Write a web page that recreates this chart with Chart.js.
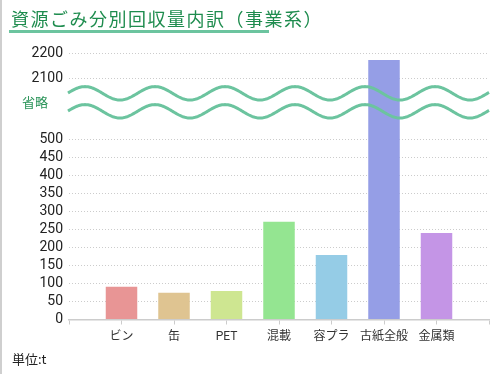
<!DOCTYPE html>
<html>
<head>
<meta charset="utf-8">
<script src="https://cdn.jsdelivr.net/npm/chart.js@4/dist/chart.umd.min.js"></script>
<style>
  html, body { margin: 0; padding: 0; background: #fff; }
  #wrap { position: relative; width: 496px; height: 374px; overflow: hidden; box-sizing: border-box; border-left: 2px solid #cfcfcf; }
  #chart { position: absolute; left: 0; top: 0; }
  .title { position: absolute; left: 9px; top: 5px; font: 18px "Noto Sans CJK JP"; letter-spacing: 1.5px; color: #1e8c4e; white-space: nowrap; }
  .underline { position: absolute; left: 7px; top: 30px; width: 260px; height: 3px; background: #6cc49f; }
  .omit { position: absolute; left: 20px; top: 92px; font: 13px "Noto Sans CJK JP"; color: #2a9459; }
  .unit { position: absolute; left: 10px; top: 349px; font: 13px "Noto Sans CJK JP"; color: #222; }
</style>
</head>
<body>
<div id="wrap">
  <canvas id="chart" width="494" height="374"></canvas>
  <div class="title">資源ごみ分別回収量内訳（事業系）</div>
  <div class="underline"></div>
  <div class="omit">省略</div>
  <div class="unit">単位:t</div>
</div>
<script>
const categories = ['ビン', '缶', 'PET', '混載', '容プラ', '古紙全般', '金属類'];
const amounts = [91, 74, 79, 271, 179, 2172, 240];
const lowerTicks = [0, 50, 100, 150, 200, 250, 300, 350, 400, 450, 500];
const upperTicks = [2100, 2200];
const colors = ['#e89595', '#dfc491', '#cee691', '#94e591', '#95cce6', '#959ee6', '#c495e6'];

const lowerMax = 600;   // top of the lower part, hidden under the break
const upperMin = 2000;  // bottom of the upper part

// empty slot at both ends so bars sit like the original
const labels = ['', ...categories, ''];
const pad = arr => [null, ...arr, null];
const lowerData = pad(amounts.map(v => Math.min(v, lowerMax)));
const upperData = pad(amounts.map(v => v > lowerMax ? v : null));
const barColors = pad(colors);

const font = { family: 'Roboto, "Noto Sans CJK JP"', size: 14 };

const breakLines = {
  id: 'breakLines',
  afterDatasetsDraw(chart) {
    const ctx = chart.ctx;
    const area = chart.chartArea;
    const edge = chart.scales.y2.bottom;
    ctx.save();
    ctx.strokeStyle = '#6cc49f';
    ctx.lineWidth = 3;
    [edge - 9.7, edge + 8.3].forEach(mid => {
      ctx.beginPath();
      for (let x = area.left - 1; x <= area.right; x += 1) {
        const y = mid - 6.7 * Math.sin((x - 65.5) / 70 * Math.PI * 2);
        if (x === area.left - 1) ctx.moveTo(x, y); else ctx.lineTo(x, y);
      }
      ctx.stroke();
    });
    ctx.restore();
  }
};

const keepTicks = list => scale => {
  scale.ticks = list.map(v => ({ value: v }));
};

const yTicks = { color: '#222', padding: 6, font: font, autoSkip: false, callback: v => String(v) };

new Chart(document.getElementById('chart'), {
  type: 'bar',
  data: {
    labels: labels,
    datasets: [
      { data: lowerData, yAxisID: 'y', backgroundColor: barColors },
      { data: upperData, yAxisID: 'y2', backgroundColor: barColors }
    ]
  },
  options: {
    responsive: false,
    animation: false,
    grouped: false,
    categoryPercentage: 1,
    barPercentage: 0.6,
    layout: { padding: { top: 53, right: 7, left: 0, bottom: 0 } },
    plugins: { legend: { display: false }, tooltip: { enabled: false } },
    scales: {
      x: {
        offset: false,
        grid: { display: true, drawOnChartArea: false, offset: false, tickLength: 5, color: '#cccccc' },
        border: { display: true, color: '#cccccc', width: 1.5 },
        ticks: { color: '#333', padding: 5, font: { family: 'Roboto, "Noto Sans CJK JP"', size: 12 }, maxRotation: 0, autoSkip: false },
        afterFit: s => { s.height = 54.5; }
      },
      y: {
        position: 'left',
        stack: 'v',
        stackWeight: 216.5,
        min: 0,
        max: lowerMax,
        afterBuildTicks: keepTicks(lowerTicks),
        grid: { drawTicks: false, color: '#cccccc', lineWidth: 1 },
        border: { display: false, dash: [1, 2] },
        ticks: yTicks,
        afterFit: s => { s.width = 67; }
      },
      y2: {
        position: 'left',
        stack: 'v',
        stackWeight: 50,
        min: upperMin,
        max: 2200,
        afterBuildTicks: keepTicks(upperTicks),
        grid: { drawTicks: false, color: '#cccccc', lineWidth: 1 },
        border: { display: false, dash: [1, 2] },
        ticks: yTicks,
        afterFit: s => { s.width = 67; }
      }
    }
  },
  plugins: [breakLines]
});
</script>
</body>
</html>
